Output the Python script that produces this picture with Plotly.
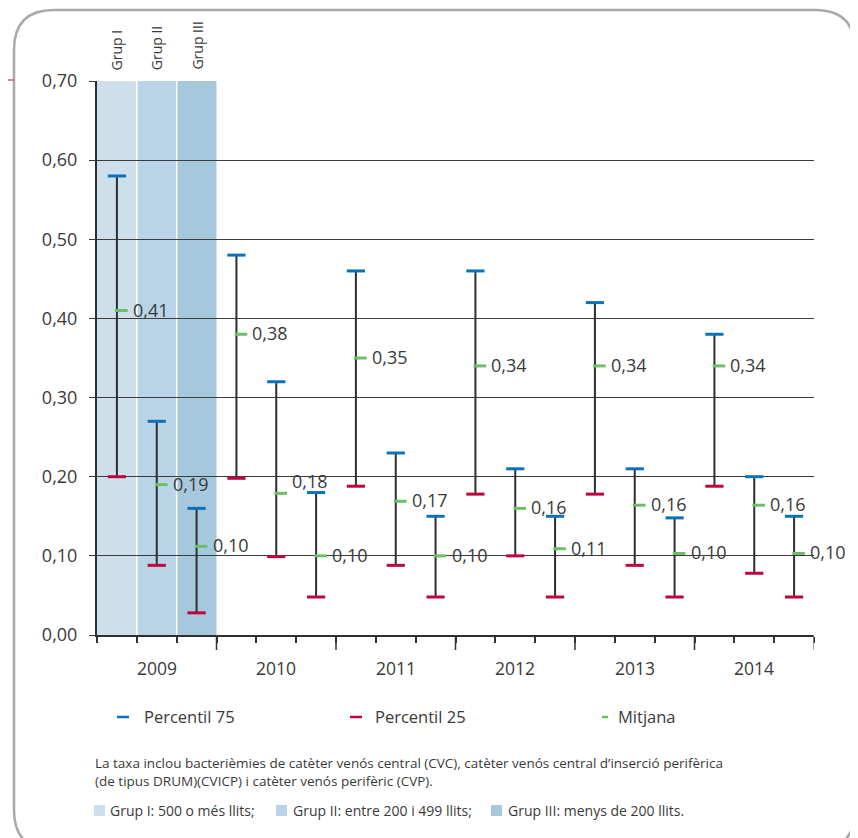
import plotly.graph_objects as go

# ---------------- data ----------------
years = ["2009", "2010", "2011", "2012", "2013", "2014"]
groups = ["Grup I", "Grup II", "Grup III"]

p75 = [0.58, 0.27, 0.16,
       0.48, 0.32, 0.18,
       0.46, 0.23, 0.15,
       0.46, 0.21, 0.15,
       0.42, 0.21, 0.148,
       0.38, 0.20, 0.15]
p25 = [0.20, 0.088, 0.028,
       0.198, 0.099, 0.048,
       0.188, 0.088, 0.048,
       0.178, 0.100, 0.048,
       0.178, 0.088, 0.048,
       0.188, 0.078, 0.048]
mitjana = [0.41, 0.19, 0.112,
           0.38, 0.179, 0.10,
           0.35, 0.169, 0.10,
           0.34, 0.16, 0.109,
           0.34, 0.164, 0.103,
           0.34, 0.164, 0.103]
mean_labels = ["0,41", "0,19", "0,10",
               "0,38", "0,18", "0,10",
               "0,35", "0,17", "0,10",
               "0,34", "0,16", "0,11",
               "0,34", "0,16", "0,10",
               "0,34", "0,16", "0,10"]
y_ticks = [0.0, 0.1, 0.2, 0.3, 0.4, 0.5, 0.6, 0.7]
y_ticktext = ["0,00", "0,10", "0,20", "0,30", "0,40", "0,50", "0,60", "0,70"]
legend_names = ["Percentil 75", "Percentil 25", "Mitjana"]
group_notes = ["Grup I: 500 o més llits;", "Grup II: entre 200 i 499 llits;", "Grup III: menys de 200 llits."]
footnote = ("La taxa inclou bacterièmies de catèter venós central (CVC), catèter venós central d’inserció perifèrica<br>"
            "(de tipus DRUM)(CVICP) i catèter venós perifèric (CVP).")

# ---------------- style ----------------
OFF = 8  # default page body margin
W, H = 850, 830
ML, MR, MT, MB = 89, 44, 73, 203
PW, PH = W - ML - MR, H - MT - MB
FONT = "Open Sans"
TXT = "#3a3a3a"
BLUE = "#0a72ba"
RED = "#c0053e"
GREEN = "#6dbf67"
GRID = "#3c3c3c"
GROUP_COLORS = ["#cddfea", "#b9d4e6", "#a6c8dc"]
label_extra_shift = {4: 11}  # "0,18" label sits above the neighbouring cap

n = len(years) * len(groups)
xs = list(range(n))
unit_px = PW / n
green_off = 4.5 / unit_px


def px(x):  # page pixel -> paper
    return (x - OFF - ML) / PW


def py(y):
    return (H - MB - (y - OFF)) / PH


fig = go.Figure()

# whiskers
vx, vy = [], []
for i in xs:
    vx += [i, i, None]
    vy += [p25[i], p75[i], None]
fig.add_trace(go.Scatter(x=vx, y=vy, mode="lines", line=dict(color="#2f2f2f", width=2),
                         hoverinfo="skip", showlegend=False))
fig.add_trace(go.Scatter(x=xs, y=p75, mode="markers", name=legend_names[0],
                         marker=dict(symbol="line-ew", size=13, line=dict(color=BLUE, width=3)),
                         showlegend=False))
fig.add_trace(go.Scatter(x=xs, y=p25, mode="markers", name=legend_names[1],
                         marker=dict(symbol="line-ew", size=13, line=dict(color=RED, width=3)),
                         showlegend=False))
fig.add_trace(go.Scatter(x=[i + green_off for i in xs], y=mitjana, mode="markers", name=legend_names[2],
                         marker=dict(symbol="line-ew", size=9, line=dict(color=GREEN, width=3)),
                         showlegend=False))

shapes = []
annotations = []

# group shading in 2009
for g, col in enumerate(GROUP_COLORS):
    shapes.append(dict(type="rect", xref="x", yref="y", x0=g - 0.5, x1=g + 0.5, y0=0, y1=0.7,
                       fillcolor=col, line=dict(width=0), layer="below"))
for g in range(1, len(groups)):
    shapes.append(dict(type="line", xref="x", yref="y", x0=g - 0.5, x1=g - 0.5, y0=0, y1=0.7,
                       line=dict(color="white", width=1.5), layer="below"))

# long ticks at year boundaries
for k in range(1, len(years) + 1):
    xb = k * len(groups) - 0.5
    shapes.append(dict(type="line", xref="x", yref="paper", x0=xb, x1=xb, y0=0, y1=-15 / PH,
                       line=dict(color="#333" if k < len(years) else "#888", width=1.5)))

# group labels (rotated)
for g, name in enumerate(groups):
    annotations.append(dict(x=g, y=1, xref="x", yref="paper", text=name, showarrow=False,
                            textangle=-90, xanchor="center", yanchor="bottom", yshift=9,
                            font=dict(family=FONT, size=14, color=TXT)))

# year labels
for k, yr in enumerate(years):
    annotations.append(dict(x=k * len(groups) + 1, y=0, xref="x", yref="paper", text=yr,
                            showarrow=False, xanchor="center", yanchor="top", yshift=-19,
                            font=dict(family=FONT, size=17.5, color=TXT)))

# mean labels
for i in xs:
    annotations.append(dict(x=i, y=mitjana[i], xref="x", yref="y", text=mean_labels[i],
                            showarrow=False, xanchor="left", yanchor="middle", xshift=14,
                            yshift=1 + label_extra_shift.get(i, 0),
                            font=dict(family=FONT, size=18, color=TXT)))

# custom legend
leg_y = 717
leg_items = [(117, 129, 142, BLUE), (350, 362, 373, RED), (602, 608, 616, GREEN)]
for (a, b, t, col), name in zip(leg_items, legend_names):
    shapes.append(dict(type="line", xref="paper", yref="paper", x0=px(a), x1=px(b),
                       y0=py(leg_y), y1=py(leg_y), line=dict(color=col, width=2.5)))
    annotations.append(dict(x=px(t), y=py(leg_y), xref="paper", yref="paper", text=name,
                            showarrow=False, xanchor="left", yanchor="middle",
                            font=dict(family=FONT, size=16.5, color=TXT)))

# footnote
annotations.append(dict(x=px(93), y=py(752), xref="paper", yref="paper", text=footnote,
                        showarrow=False, xanchor="left", yanchor="top", align="left",
                        font=dict(family=FONT, size=13.5, color=TXT)))
note_pos = [(94, 108), (276, 291), (491, 506)]
for (sq, t), note, col in zip(note_pos, group_notes, GROUP_COLORS):
    shapes.append(dict(type="rect", xref="paper", yref="paper", x0=px(sq), x1=px(sq + 11),
                       y0=py(805), y1=py(816), fillcolor=col, line=dict(width=0)))
    annotations.append(dict(x=px(t), y=py(810.5), xref="paper", yref="paper", text=note,
                            showarrow=False, xanchor="left", yanchor="middle",
                            font=dict(family=FONT, size=14, color=TXT)))

# rounded frame
L, T, R, B, r = 14, 10, 855, 850, 40
path = (f"M {px(L)},{py(B - r)} L {px(L)},{py(T + r)} Q {px(L)},{py(T)} {px(L + r)},{py(T)} "
        f"L {px(R - r)},{py(T)} Q {px(R)},{py(T)} {px(R)},{py(T + r)} "
        f"L {px(R)},{py(B - r)} Q {px(R)},{py(B)} {px(R - r)},{py(B)} "
        f"L {px(L + r)},{py(B)} Q {px(L)},{py(B)} {px(L)},{py(B - r)} Z")
shapes.append(dict(type="path", xref="paper", yref="paper", path=path,
                   line=dict(color="#a9a9ab", width=2.5), fillcolor="rgba(0,0,0,0)"))
shapes.append(dict(type="line", xref="paper", yref="paper", x0=px(8), x1=px(14),
                   y0=py(80), y1=py(80), line=dict(color="#d35d7d", width=1.5)))

fig.update_layout(
    width=W, height=H, autosize=False,
    margin=dict(l=ML, r=MR, t=MT, b=MB, pad=0),
    paper_bgcolor="white", plot_bgcolor="white",
    showlegend=False,
    shapes=shapes, annotations=annotations,
    font=dict(family=FONT, color=TXT),
    xaxis=dict(range=[-0.5, n - 0.5], tickvals=[i - 0.5 for i in range(n + 1)],
               showticklabels=False, ticks="outside", ticklen=6, tickwidth=1.5, tickcolor="#333",
               showgrid=False, zeroline=False, showline=True, linecolor="#2f2f2f", linewidth=2),
    yaxis=dict(range=[0, 0.7], tickvals=y_ticks, ticktext=y_ticktext,
               ticks="outside", ticklen=6, tickcolor=GRID, tickwidth=1,
               showgrid=True, gridcolor=GRID, gridwidth=1, zeroline=False,
               showline=True, linecolor="#2f2f2f", linewidth=2,
               ticklabelstandoff=8,
               tickfont=dict(family=FONT, size=18, color=TXT)),
)

fig.write_html("out.html")
